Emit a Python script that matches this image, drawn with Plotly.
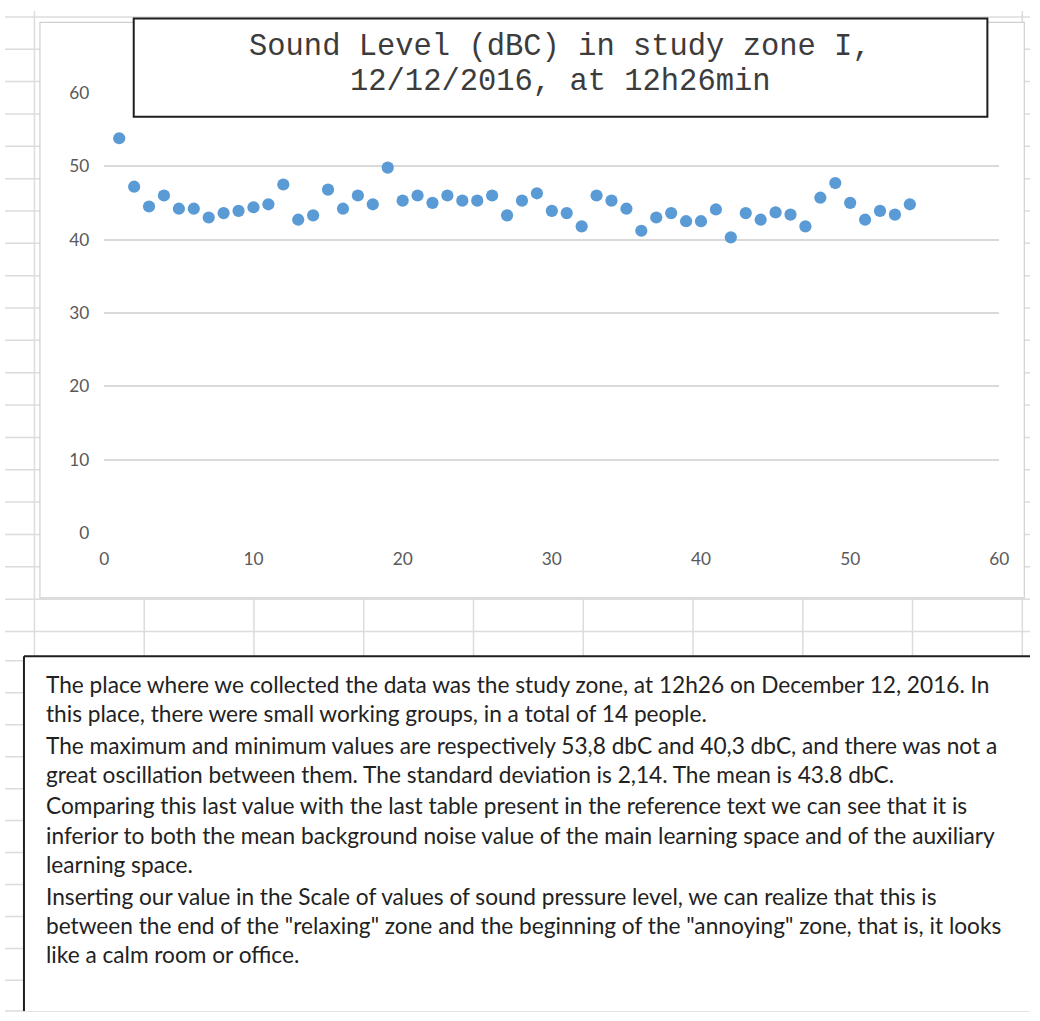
import plotly.graph_objects as go

# ---------------- data ----------------
sample_index = list(range(1, 55))
sound_level_dbc = [
    53.8, 47.2, 44.5, 46.0, 44.2, 44.2, 43.0, 43.6, 43.9, 44.4,
    44.8, 47.5, 42.7, 43.3, 46.8, 44.2, 46.0, 44.8, 49.8, 45.3,
    46.0, 45.0, 46.0, 45.3, 45.3, 46.0, 43.3, 45.3, 46.3, 43.9,
    43.6, 41.8, 46.0, 45.3, 44.2, 41.2, 43.0, 43.6, 42.5, 42.5,
    44.1, 40.3, 43.6, 42.7, 43.7, 43.4, 41.8, 45.7, 47.7, 45.0,
    42.7, 43.9, 43.4, 44.8,
]
x_ticks = [0, 10, 20, 30, 40, 50, 60]
y_ticks = [0, 10, 20, 30, 40, 50, 60]

title_lines = [
    "Sound Level (dBC) in study zone I,",
    "12/12/2016, at 12h26min",
]

body_lines = [
    "The place where we collected the data was the study zone, at 12h26 on December 12, 2016. In",
    "this place, there were small working groups, in a total of 14 people.",
    "The maximum and minimum values are respectively 53,8 dbC and 40,3 dbC, and there was not a",
    "great oscillation between them. The standard deviation is 2,14. The mean is 43.8 dbC.",
    "Comparing this last value with the last table present in the reference text we can see that it is",
    "inferior to both the mean background noise value of the main learning space and of the auxiliary",
    "learning space.",
    "Inserting our value in the Scale of values of sound pressure level, we can realize that this is",
    "between the end of the \"relaxing\" zone and the beginning of the \"annoying\" zone, that is, it looks",
    "like a calm room or office.",
]

# ---------------- layout helpers (target pixel -> paper) ----------------
W, H = 1040, 1021
# observed rendering transform of the page (compensated here)
SX, OX = 0.9877, 3.5
SY, OY = 0.981, 10.1
FS = 1 / 0.984  # font / marker scale compensation


def px(x):
    return min(max(((x - OX) / SX) / W, 0), 1)


def py(y):
    return min(max(1 - ((y - OY) / SY) / H, 0), 1)


GRID = "#d9d9d9"
SHEET = "#dcdcdc"

shapes = []


def line(x0, y0, x1, y1, color, width, layer="below"):
    shapes.append(dict(type="line", xref="paper", yref="paper", layer=layer,
                       x0=px(x0), x1=px(x1), y0=py(y0), y1=py(y1),
                       line=dict(color=color, width=width)))


# spreadsheet rows (background)
row_y = [16 + 32.4 * k for k in range(20)] + [661 + 32 * k for k in range(12)]
for y in row_y:
    line(0, y, W + 20, y, SHEET, 1.5)
# spreadsheet columns
for i, x in enumerate([33 + 110 * k for k in range(10)]):
    top = 8 if i in (0, 9) else 598
    line(x, top, x, 656, SHEET, 1.5)

# chart area
shapes.append(dict(type="rect", xref="paper", yref="paper", layer="below",
                   x0=px(38.5), x1=px(1025), y0=py(598), y1=py(21.5),
                   fillcolor="white", line=dict(color="#d0d0d0", width=1.2)))

# text box below chart (continues beyond the window: only left/top edges visible)
shapes.append(dict(type="rect", xref="paper", yref="paper", layer="below",
                   x0=px(22.5), x1=1, y0=0, y1=py(656.5),
                   fillcolor="white", line=dict(width=0)))
line(22.5, 656.5, W + 20, 656.5, "#1e1e1e", 2)
line(22.5, 656.5, 22.5, H + 20, "#1e1e1e", 2)

# title box
shapes.append(dict(type="rect", xref="paper", yref="paper", layer="above",
                   x0=px(132.5), x1=px(988), y0=py(116), y1=py(17.5),
                   fillcolor="white", line=dict(color="#1e1e1e", width=2)))

annotations = []
for txt, yc in zip(title_lines, [46, 81]):
    annotations.append(dict(xref="paper", yref="paper", x=px(560), y=py(yc),
                            xanchor="center", yanchor="middle", showarrow=False,
                            text=txt,
                            font=dict(family="Liberation Mono", size=30 * FS, color="#3c3c3c")))

body_y = [685, 714, 746, 775, 806, 836, 865, 897, 926, 955]
for txt, yc in zip(body_lines, body_y):
    annotations.append(dict(xref="paper", yref="paper", x=px(43), y=py(yc),
                            xanchor="left", yanchor="middle", showarrow=False,
                            text=txt,
                            font=dict(family="Lato", size=22.3 * FS, color="#222222")))

fig = go.Figure()
fig.add_trace(go.Scatter(
    x=sample_index, y=sound_level_dbc, mode="markers",
    marker=dict(color="#5b9bd5", size=12 * FS, line=dict(width=0)),
    showlegend=False,
))

fig.update_layout(
    width=W, height=H,
    margin=dict(l=0, r=0, t=0, b=0),
    paper_bgcolor="white",
    plot_bgcolor="rgba(0,0,0,0)",
    shapes=shapes,
    annotations=annotations,
    xaxis=dict(domain=[px(103), px(1000)], range=[0, 60], tickvals=x_ticks,
               showgrid=False, zeroline=False, showline=False, ticks="",
               ticklabelstandoff=14,
               tickfont=dict(family="Lato", size=17 * FS, color="#595959")),
    yaxis=dict(domain=[py(533), py(92)], range=[0, 60], tickvals=y_ticks,
               showgrid=True, gridcolor=GRID, gridwidth=1.5,
               zeroline=False, showline=False, ticks="",
               ticklabelstandoff=14,
               tickfont=dict(family="Lato", size=17 * FS, color="#595959")),
)

fig.write_html(
    "out.html",
    config={"displayModeBar": False},
    post_script="document.documentElement.style.margin='0';"
                "document.body.style.margin='0';"
                "document.body.style.overflow='hidden';",
)
